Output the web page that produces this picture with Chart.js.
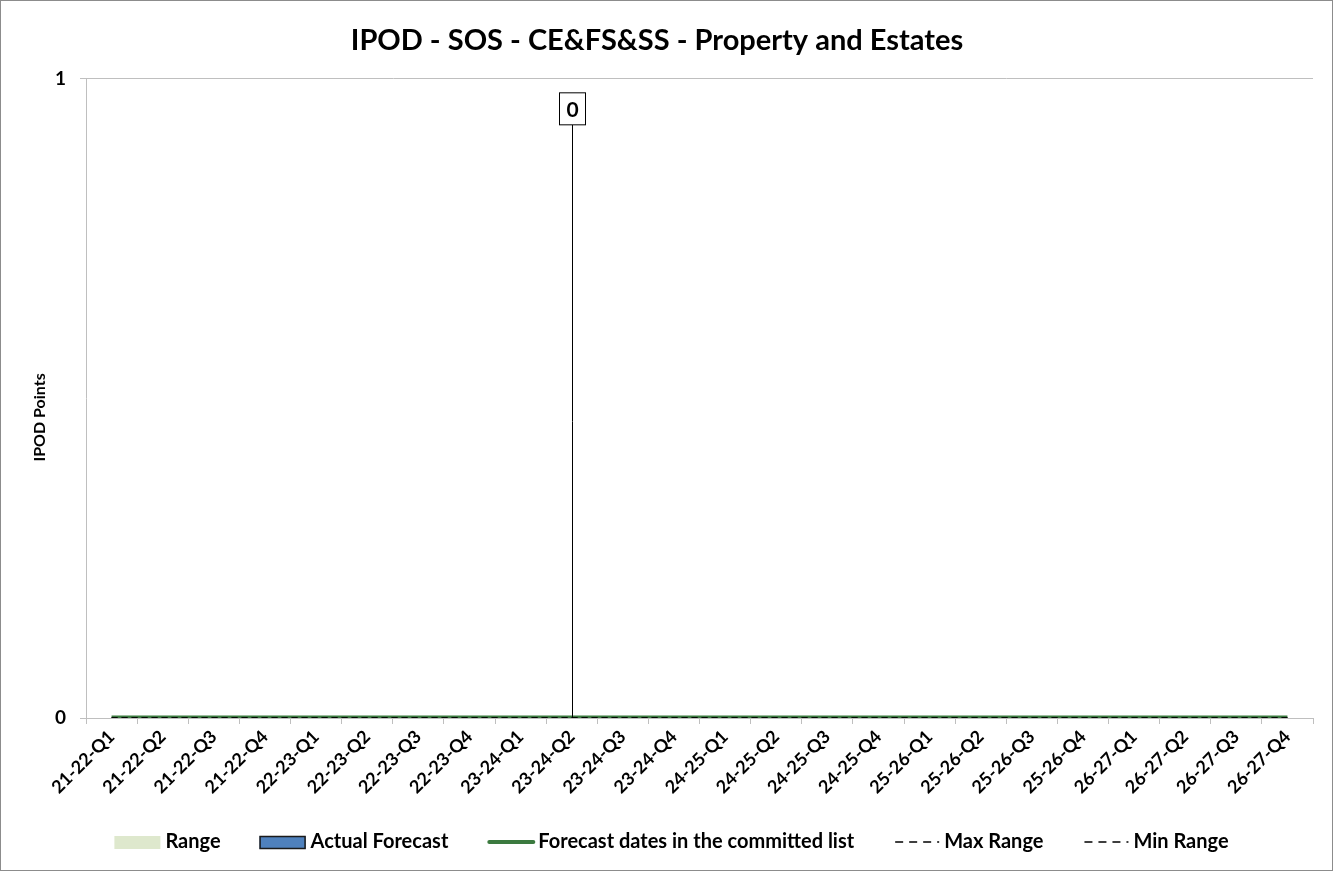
<!DOCTYPE html>
<html>
<head>
<meta charset="utf-8">
<title>IPOD - SOS - CE&amp;FS&amp;SS - Property and Estates</title>
<script src="https://cdn.jsdelivr.net/npm/chart.js@4.4.1/dist/chart.umd.min.js"></script>
<style>
    html, body { margin: 0; padding: 0; background: #fff; }
    #wrap { width: 1333px; height: 871px; box-sizing: border-box; border: 1px solid #8c8c8c; }
    canvas { display: block; }
</style>
</head>
<body>
<div id="wrap"><canvas id="chart" width="1331" height="869"></canvas></div>
<script>
// Quarters on the x axis
const quarters = [
    '21-22-Q1', '21-22-Q2', '21-22-Q3', '21-22-Q4',
    '22-23-Q1', '22-23-Q2', '22-23-Q3', '22-23-Q4',
    '23-24-Q1', '23-24-Q2', '23-24-Q3', '23-24-Q4',
    '24-25-Q1', '24-25-Q2', '24-25-Q3', '24-25-Q4',
    '25-26-Q1', '25-26-Q2', '25-26-Q3', '25-26-Q4',
    '26-27-Q1', '26-27-Q2', '26-27-Q3', '26-27-Q4'
];

// Series values (all read as zero from the picture)
const rangeValues     = [0, 0, 0, 0, 0, 0, 0, 0, 0, 0, 0, 0, 0, 0, 0, 0, 0, 0, 0, 0, 0, 0, 0, 0];
const actualForecast  = [0, 0, 0, 0, 0, 0, 0, 0, 0, 0, 0, 0, 0, 0, 0, 0, 0, 0, 0, 0, 0, 0, 0, 0];
const committedDates  = [0, 0, 0, 0, 0, 0, 0, 0, 0, 0, 0, 0, 0, 0, 0, 0, 0, 0, 0, 0, 0, 0, 0, 0];
const maxRange        = [0, 0, 0, 0, 0, 0, 0, 0, 0, 0, 0, 0, 0, 0, 0, 0, 0, 0, 0, 0, 0, 0, 0, 0];
const minRange        = [0, 0, 0, 0, 0, 0, 0, 0, 0, 0, 0, 0, 0, 0, 0, 0, 0, 0, 0, 0, 0, 0, 0, 0];

// Y axis ticks
const yTicks = [0, 1];

// Current quarter marker
const markerQuarter = '23-24-Q2';
const markerTop = 0.928;
const markerLabel = '0';

const FONT = 'Lato, "Open Sans", "DejaVu Sans", sans-serif';

Chart.defaults.font.family = FONT;
Chart.defaults.color = '#000';

/**
 * Vertical line + boxed label for the current quarter
 */
const markerPlugin = {
    id: 'quarterMarker',
    afterDatasetsDraw(chart) {
        const { ctx } = chart;
        const x = chart.scales.x;
        const y = chart.scales.y;
        const px = Math.round(x.getPixelForValue(quarters.indexOf(markerQuarter))) + 0.5;
        const yBase = y.getPixelForValue(0);
        const yTop = y.getPixelForValue(markerTop);

        ctx.save();
        ctx.strokeStyle = '#000';
        ctx.lineWidth = 1;
        ctx.beginPath();
        ctx.moveTo(px, yBase);
        ctx.lineTo(px, yTop);
        ctx.stroke();

        // label box
        const w = 26, h = 32;
        ctx.fillStyle = '#fff';
        ctx.fillRect(px - w / 2, yTop - h, w, h);
        ctx.strokeRect(px - w / 2, yTop - h, w, h);
        ctx.fillStyle = '#000';
        ctx.font = 'bold 21px ' + FONT;
        ctx.textAlign = 'center';
        ctx.textBaseline = 'middle';
        ctx.fillText(markerLabel, px, yTop - h / 2 + 1);
        ctx.restore();
    }
};

/**
 * Y axis title, drawn a little below the plot centre like the original
 */
const yTitlePlugin = {
    id: 'yTitle',
    afterDraw(chart) {
        const { ctx, chartArea } = chart;
        ctx.save();
        ctx.translate(39, (chartArea.top + chartArea.bottom) / 2 + 19);
        ctx.rotate(-Math.PI / 2);
        ctx.font = 'bold 16px ' + FONT;
        ctx.fillStyle = '#000';
        ctx.textAlign = 'center';
        ctx.textBaseline = 'middle';
        ctx.fillText('IPOD Points', 0, 0);
        ctx.restore();
    }
};

/**
 * Bottom legend drawn on the canvas (box / line / dashed samples)
 */
const legendPlugin = {
    id: 'bottomLegend',
    afterDraw(chart) {
        const { ctx } = chart;
        const sampleW = 46, textGap = 5, itemGap = 39;
        const cy = 841;
        ctx.save();
        ctx.font = 'bold 20px ' + FONT;
        ctx.textBaseline = 'middle';
        ctx.textAlign = 'left';

        const items = chart.data.datasets.map(ds => ({
            ds: ds,
            textW: ctx.measureText(ds.label).width
        }));
        const total = items.reduce((s, it) => s + sampleW + textGap + it.textW, 0) + itemGap * (items.length - 1);
        let xPos = chart.width / 2 - total / 2 + 5;

        items.forEach(it => {
            const ds = it.ds;
            if (ds.legendKind === 'box') {
                ctx.fillStyle = ds.backgroundColor;
                ctx.fillRect(xPos, cy - 6, sampleW, 13);
                if (ds.borderWidth) {
                    ctx.strokeStyle = ds.borderColor;
                    ctx.lineWidth = 1.5;
                    ctx.strokeRect(xPos + 0.5, cy - 5.5, sampleW - 1, 12);
                }
            } else {
                ctx.strokeStyle = ds.borderColor;
                ctx.lineWidth = ds.legendKind === 'dash' ? 1.5 : 4;
                ctx.lineCap = ds.legendKind === 'dash' ? 'butt' : 'round';
                ctx.setLineDash(ds.legendKind === 'dash' ? [8, 6] : []);
                ctx.beginPath();
                ctx.moveTo(xPos + 2, cy);
                ctx.lineTo(xPos + sampleW, cy);
                ctx.stroke();
                ctx.setLineDash([]);
            }
            ctx.fillStyle = '#000';
            ctx.fillText(ds.label, xPos + sampleW + textGap, cy);
            xPos += sampleW + textGap + it.textW + itemGap;
        });
        ctx.restore();
    }
};

const ctx = document.getElementById('chart').getContext('2d');

new Chart(ctx, {
    data: {
        labels: quarters,
        datasets: [
            {
                type: 'line',
                label: 'Range',
                legendKind: 'box',
                data: rangeValues,
                backgroundColor: '#DEE8CD',
                borderWidth: 0,
                fill: 'origin',
                pointRadius: 0,
                order: 5
            },
            {
                type: 'bar',
                label: 'Actual Forecast',
                legendKind: 'box',
                data: actualForecast,
                backgroundColor: '#4F81BD',
                borderColor: '#1a1a1a',
                borderWidth: 1,
                order: 4
            },
            {
                type: 'line',
                label: 'Forecast dates in the committed list',
                legendKind: 'line',
                data: committedDates,
                borderColor: '#3B7A3F',
                borderWidth: 5,
                pointRadius: 0,
                fill: false,
                order: 3
            },
            {
                type: 'line',
                label: 'Max Range',
                legendKind: 'dash',
                data: maxRange,
                borderColor: '#000',
                borderWidth: 1.5,
                borderDash: [6, 4],
                pointRadius: 0,
                fill: false,
                order: 2
            },
            {
                type: 'line',
                label: 'Min Range',
                legendKind: 'dash',
                data: minRange,
                borderColor: '#000',
                borderWidth: 1.5,
                borderDash: [6, 4],
                pointRadius: 0,
                fill: false,
                order: 1
            }
        ]
    },
    options: {
        responsive: false,
        animation: false,
        layout: {
            padding: { top: 0, left: 0, right: 19, bottom: 52 }
        },
        plugins: {
            legend: { display: false },
            tooltip: { enabled: false },
            title: {
                display: true,
                text: 'IPOD - SOS - CE&FS&SS - Property and Estates',
                font: { size: 29, weight: 'bold' },
                color: '#000',
                padding: { top: 22, bottom: 21 }
            }
        },
        scales: {
            x: {
                type: 'category',
                offset: true,
                grid: {
                    offset: true,
                    drawOnChartArea: false,
                    color: '#BFBFBF',
                    tickLength: 6
                },
                border: { color: '#BFBFBF' },
                ticks: {
                    autoSkip: false,
                    minRotation: 45,
                    maxRotation: 45,
                    padding: 2,
                    font: { size: 18, weight: 'bold' }
                },
                afterFit(scale) {
                    scale.height = 100;
                }
            },
            y: {
                min: 0,
                max: 1,
                afterBuildTicks(scale) {
                    scale.ticks = yTicks.map(v => ({ value: v }));
                },
                grid: {
                    color: '#BFBFBF',
                    tickLength: 6
                },
                border: { color: '#BFBFBF' },
                ticks: {
                    padding: 14,
                    font: { size: 19, weight: 'bold' }
                },
                afterFit(scale) {
                    scale.width = 85;
                }
            }
        }
    },
    plugins: [markerPlugin, yTitlePlugin, legendPlugin]
});
</script>
</body>
</html>
